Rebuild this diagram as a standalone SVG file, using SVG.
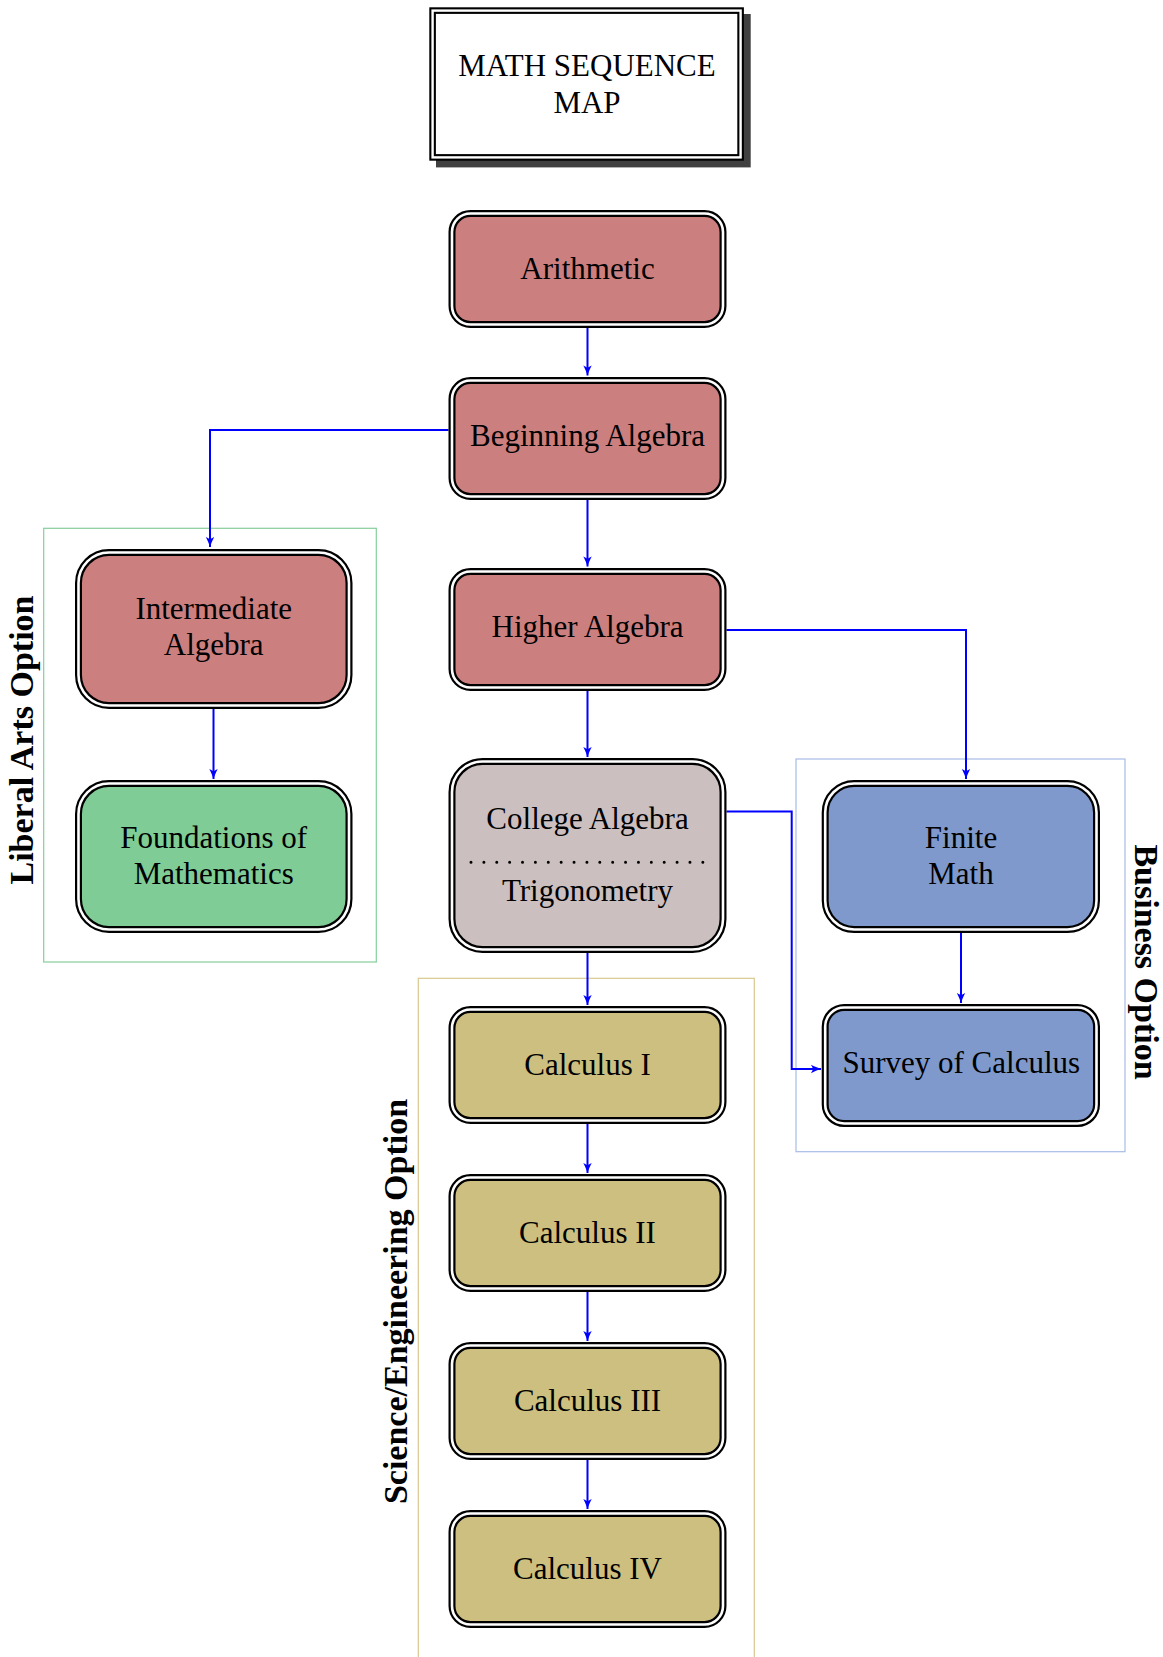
<svg xmlns="http://www.w3.org/2000/svg" width="1163" height="1657" viewBox="0 0 1163 1657">
<defs>
<style>
.nt{font-family:"Liberation Serif","Times New Roman",serif;font-size:31px;fill:#000;text-anchor:middle}
.lb{font-family:"Liberation Serif","Times New Roman",serif;font-size:34px;font-weight:bold;fill:#000;text-anchor:middle}
.bo{stroke:#000;stroke-width:7}
.bi{fill:none;stroke:#fff;stroke-width:2.6}
.red{fill:#cc7f7f}
.grn{fill:#7fcc96}
.blu{fill:#7f99cc}
.tan{fill:#ccbf7f}
.gry{fill:#cbbfbf}
.con{fill:none;stroke:#0000ff;stroke-width:2;marker-end:url(#ah)}
.grp{fill:none;stroke-width:1.2}
</style>
<marker id="ah" markerUnits="userSpaceOnUse" markerWidth="14" markerHeight="12" viewBox="-11 -6 13 12" refX="0" refY="0" orient="auto">
<path d="M0,0 C-3,-1 -7,-2.5 -10,-4.2 L-7.8,0 L-10,4.2 C-7,2.5 -3,1 0,0 Z" fill="#0000ff"/>
</marker>
</defs>

<g id="groups">
<rect id="liberal-arts-box" class="grp" x="43.7" y="528.3" width="332.6" height="433.7" stroke="#85cf9c"/>
<rect id="business-box" class="grp" x="796" y="759" width="329" height="392.7" stroke="#a9bce8"/>
<rect id="science-box" class="grp" x="418.3" y="978.3" width="336" height="700" stroke="#d8c98e"/>
<text class="lb" transform="translate(33,740) rotate(-90)">Liberal Arts Option</text>
<text class="lb" transform="translate(1135,962) rotate(90)">Business Option</text>
<text class="lb" transform="translate(407,1301.5) rotate(-90)">Science/Engineering Option</text>
</g>

<g id="title">
<rect x="436" y="14" width="314.7" height="153.4" fill="#404040"/>
<rect x="432.6" y="10.6" width="308" height="146.8" fill="#fff" stroke="#000" stroke-width="6.6"/>
<rect x="432.6" y="10.6" width="308" height="146.8" fill="none" stroke="#fff" stroke-width="2.4"/>
<text class="nt" x="587" y="76">MATH SEQUENCE</text>
<text class="nt" x="587" y="113">MAP</text>
</g>

<g id="connectors">
<path class="con" d="M587.5,328 V375.5"/>
<path class="con" d="M448.5,430 H210 V547"/>
<path class="con" d="M587.5,500 V566.5"/>
<path class="con" d="M726.5,630 H966 V779"/>
<path class="con" d="M587.5,691 V757"/>
<path class="con" d="M726.5,811.5 H791.7 V1069 H821"/>
<path class="con" d="M587.5,953 V1005"/>
<path class="con" d="M213.5,709 V779"/>
<path class="con" d="M961,933 V1003"/>
<path class="con" d="M587.5,1124 V1173"/>
<path class="con" d="M587.5,1292 V1341"/>
<path class="con" d="M587.5,1460 V1509"/>
</g>

<g id="arithmetic">
<rect class="red bo" x="452" y="213.5" width="271" height="111" rx="18.5"/>
<rect class="bi" x="452" y="213.5" width="271" height="111" rx="18.5"/>
<text class="nt" x="587.5" y="279">Arithmetic</text>
</g>
<g id="beginning-algebra">
<rect class="red bo" x="452" y="380.5" width="271" height="116" rx="18.5"/>
<rect class="bi" x="452" y="380.5" width="271" height="116" rx="18.5"/>
<text class="nt" x="587.5" y="446">Beginning Algebra</text>
</g>
<g id="higher-algebra">
<rect class="red bo" x="452" y="571.5" width="271" height="116" rx="18.5"/>
<rect class="bi" x="452" y="571.5" width="271" height="116" rx="18.5"/>
<text class="nt" x="587.5" y="637">Higher Algebra</text>
</g>
<g id="intermediate-algebra">
<rect class="red bo" x="78.5" y="552.5" width="270.5" height="153" rx="30.5"/>
<rect class="bi" x="78.5" y="552.5" width="270.5" height="153" rx="30.5"/>
<text class="nt" x="213.7" y="619">Intermediate</text>
<text class="nt" x="213.7" y="655">Algebra</text>
</g>
<g id="foundations">
<rect class="grn bo" x="78.5" y="783.5" width="270.5" height="146" rx="30.5"/>
<rect class="bi" x="78.5" y="783.5" width="270.5" height="146" rx="30.5"/>
<text class="nt" x="213.7" y="848">Foundations of</text>
<text class="nt" x="213.7" y="884">Mathematics</text>
</g>
<g id="college-algebra-trig">
<rect class="gry bo" x="452" y="761.5" width="271" height="188" rx="30.5"/>
<rect class="bi" x="452" y="761.5" width="271" height="188" rx="30.5"/>
<text class="nt" x="587.5" y="828.5">College Algebra</text>
<line x1="471" y1="862.3" x2="704" y2="862.3" stroke="#000" stroke-width="3" stroke-linecap="round" stroke-dasharray="0 12.88"/>
<text class="nt" x="587.5" y="900.7">Trigonometry</text>
</g>
<g id="finite-math">
<rect class="blu bo" x="825.2" y="783.5" width="271.3" height="146" rx="29"/>
<rect class="bi" x="825.2" y="783.5" width="271.3" height="146" rx="29"/>
<text class="nt" x="961" y="848">Finite</text>
<text class="nt" x="961" y="884">Math</text>
</g>
<g id="survey-of-calculus">
<rect class="blu bo" x="825.2" y="1007.5" width="271.3" height="116" rx="19"/>
<rect class="bi" x="825.2" y="1007.5" width="271.3" height="116" rx="19"/>
<text class="nt" x="961.3" y="1073">Survey of Calculus</text>
</g>
<g id="calculus-1">
<rect class="tan bo" x="452" y="1009.5" width="271" height="111" rx="18.5"/>
<rect class="bi" x="452" y="1009.5" width="271" height="111" rx="18.5"/>
<text class="nt" x="587.5" y="1074.5">Calculus I</text>
</g>
<g id="calculus-2">
<rect class="tan bo" x="452" y="1177.5" width="271" height="111" rx="18.5"/>
<rect class="bi" x="452" y="1177.5" width="271" height="111" rx="18.5"/>
<text class="nt" x="587.5" y="1242.5">Calculus II</text>
</g>
<g id="calculus-3">
<rect class="tan bo" x="452" y="1345.5" width="271" height="111" rx="18.5"/>
<rect class="bi" x="452" y="1345.5" width="271" height="111" rx="18.5"/>
<text class="nt" x="587.5" y="1410.5">Calculus III</text>
</g>
<g id="calculus-4">
<rect class="tan bo" x="452" y="1513.5" width="271" height="111" rx="18.5"/>
<rect class="bi" x="452" y="1513.5" width="271" height="111" rx="18.5"/>
<text class="nt" x="587.5" y="1579">Calculus IV</text>
</g>
</svg>
